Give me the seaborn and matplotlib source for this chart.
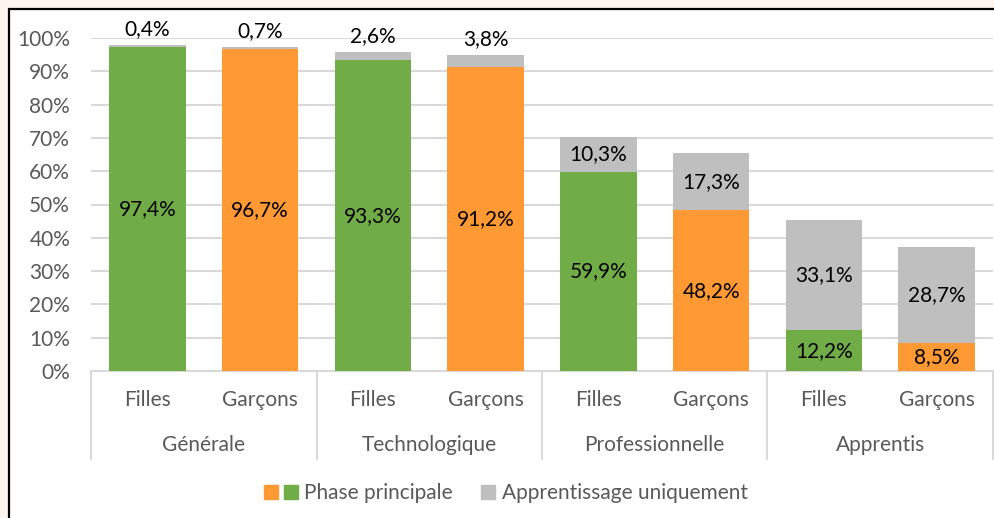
import numpy as np
import matplotlib.pyplot as plt
import seaborn as sns
import pandas as pd
from matplotlib.patches import Rectangle
from matplotlib.lines import Line2D
from matplotlib.legend_handler import HandlerTuple

# data
filieres = ['Générale', 'Technologique', 'Professionnelle', 'Apprentis']
sexes = ['Filles', 'Garçons']
phase_principale = [97.4, 96.7, 93.3, 91.2, 59.9, 48.2, 12.2, 8.5]
apprentissage = [0.4, 0.7, 2.6, 3.8, 10.3, 17.3, 33.1, 28.7]
yticks = [0, 10, 20, 30, 40, 50, 60, 70, 80, 90, 100]

GREEN = '#70AD47'
ORANGE = '#FF9933'
GREY = '#BFBFBF'
TXT = '#595959'
FS = 15

sns.set_theme(style='white')
plt.rcParams['font.family'] = ['Lato', 'DejaVu Sans']

rows = []
for i, f in enumerate(filieres):
    for j, s in enumerate(sexes):
        k = i * 2 + j
        rows.append({'bar': f'{f}|{s}', 'filiere': f, 'sexe': s,
                     'main': phase_principale[k], 'appr': apprentissage[k]})
df = pd.DataFrame(rows)
order = list(df['bar'])

fig = plt.figure(figsize=(9.94, 5.18), dpi=100)
fig.patch.set_facecolor('#FDF5EE')
# white chart frame
fig.patches.append(Rectangle((9 / 994, -0.05), 1.0, (518 - 9) / 518 + 0.05,
                             transform=fig.transFigure, facecolor='white',
                             edgecolor='black', linewidth=1.6, zorder=-5))

ax = fig.add_axes([91 / 994, (518 - 371) / 518, (993 - 91) / 994, 333 / 518])
ax.set_facecolor('none')

sns.barplot(data=df, x='bar', y='main', hue='sexe', order=order,
            palette={'Filles': GREEN, 'Garçons': ORANGE}, dodge=False,
            width=0.68, legend=False, ax=ax, saturation=1, zorder=2,
            linewidth=0)
sns.barplot(data=df, x='bar', y='appr', order=order, color=GREY,
            bottom=df['main'].values, width=0.68, ax=ax, saturation=1,
            zorder=2, linewidth=0)

ax.set_ylim(0, 100)
ax.set_xlim(-0.5, len(order) - 0.5)
ax.set_yticks(yticks)
ax.set_yticklabels([f'{v}%' for v in yticks], color=TXT, fontsize=FS)
ax.tick_params(axis='y', length=0, pad=15)
ax.yaxis.grid(True, color='#D9D9D9', linewidth=1.5)
ax.set_axisbelow(True)
for sp in ax.spines.values():
    sp.set_visible(False)
ax.set_xlabel('')
ax.set_ylabel('')

# value labels
for k, (m, a) in enumerate(zip(phase_principale, apprentissage)):
    ax.text(k, m / 2, f'{m:.1f}%'.replace('.', ','), ha='center', va='center',
            fontsize=FS, color='black', zorder=3)
    if a < 5:
        ax.text(k, m + a + 1.8, f'{a:.1f}%'.replace('.', ','), ha='center',
                va='bottom', fontsize=FS, color='black', zorder=3, clip_on=False)
    else:
        ax.text(k, m + a / 2, f'{a:.1f}%'.replace('.', ','), ha='center',
                va='center', fontsize=FS, color='black', zorder=3)

# two-level category axis
ax.set_xticks(range(len(order)))
ax.set_xticklabels([])
ax.tick_params(axis='x', length=0)
tr = ax.get_xaxis_transform()
ax.plot([-0.5, len(order) - 0.5], [0, 0], transform=tr, color='#D9D9D9',
        linewidth=1.5, clip_on=False, zorder=1)
for k, s in enumerate(df['sexe']):
    ax.text(k, -0.087, s, transform=tr, ha='center', va='center',
            fontsize=FS, color=TXT)
for i, f in enumerate(filieres):
    ax.text(i * 2 + 0.5, -0.222, f, transform=tr, ha='center', va='center',
            fontsize=FS, color=TXT)
for xb in np.arange(-0.5, len(order), 2):
    ax.plot([xb, xb], [0, -0.264], transform=tr, color='#D9D9D9',
            linewidth=1.5, clip_on=False)

# legend
def sq(c):
    return Line2D([], [], marker='s', linestyle='none', markersize=10,
                  markerfacecolor=c, markeredgecolor=c)

fig.legend([(sq(ORANGE), sq(GREEN)), (sq('none'), sq(GREY))],
           ['Phase principale', 'Apprentissage uniquement'],
           handler_map={tuple: HandlerTuple(ndivide=None, pad=0.25)},
           loc='center', bbox_to_anchor=(506 / 994, 1 - 493 / 518), ncol=2,
           frameon=False, fontsize=FS, labelcolor=TXT, handlelength=1.6,
           handletextpad=0.3, columnspacing=0.45)

fig.savefig('out.png', dpi=100, facecolor=fig.get_facecolor())
